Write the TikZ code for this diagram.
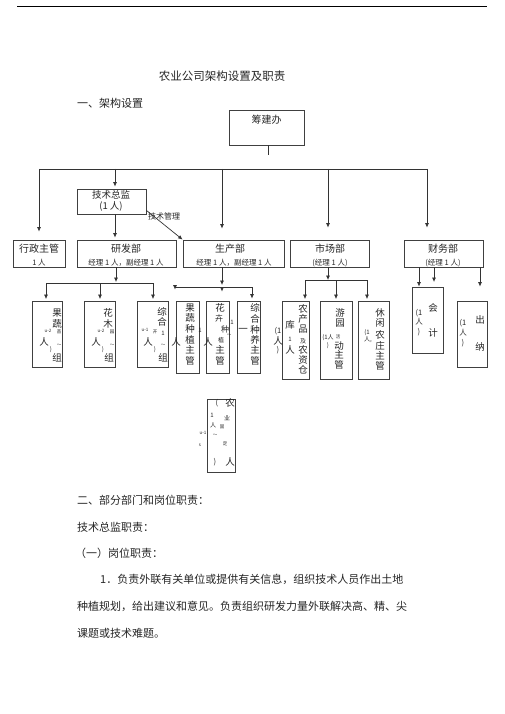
\documentclass[tikz,border=0pt]{standalone}
\usepackage{fontspec}
\setmainfont{Noto Sans CJK SC}
\usetikzlibrary{arrows.meta}
\newcommand\mych[4]{\node[#1] (#2) at (#3) {#4};}
\begin{document}
\begin{tikzpicture}[x=1pt,y=-1pt,
  ln/.style={draw=black!80, line width=0.7pt},
  arr/.style={ln, -{Latex[length=4.5pt,width=4pt]}},
  bx/.style={draw=black!75, line width=0.8pt, inner sep=0pt},
  t/.style={inner sep=0pt, text=black!85},
  c/.style={t, font=\fontsize{9.5}{10}\selectfont},
  cs/.style={t, font=\fontsize{6}{6}\selectfont},
  cx/.style={t, font=\fontsize{4.5}{5}\selectfont},
  bt/.style={t, font=\fontsize{10}{11}\selectfont},
  st/.style={t, font=\fontsize{7.5}{8}\selectfont},
  body/.style={t, anchor=west, font=\fontsize{11}{13}\selectfont},
]
\useasboundingbox[fill=white] (0,0) rectangle (505,714);
\draw[line width=0.8pt] (17,6) -- (487,6);

\node[t, font=\fontsize{11.5}{13}\selectfont] (title) at (222,76) {农业公司架构设置及职责};
\node[t, anchor=west, font=\fontsize{11}{13}\selectfont] (h1) at (77,103) {一、架构设置};

% top box
\node[bx, minimum width=75pt, minimum height=35pt] (cjb) at (266.5,127.5) {};
\node[bt] (cjbt) at (266.5,120) {筹建办};
\coordinate (c0) at (268,155);
\draw[ln] (c0 |- cjb.south) -- (c0);
\coordinate (busL) at (39,169);
\coordinate (busR) at (427,169);
\draw[ln] (busL) -- (busR);

% departments
\node[bx, minimum width=52pt, minimum height=27pt] (xz) at (39,253.5) {};
\node[bt] (xz1) at (39,249) {行政主管};
\node[st] (xz2) at (39,263) {1 人};
\draw[arr, shorten >=8pt] (busL) -- (xz.north);

\node[bx, minimum width=69pt, minimum height=25pt] (js) at (111.5,201.5) {};
\node[t, font=\fontsize{9.5}{10}\selectfont] (js1) at (111,195) {技术总监};
\node[t, font=\fontsize{9.5}{10}\selectfont] (js2) at (111,206) {(1 人)};
\coordinate (d1) at (115,169);
\draw[arr, shorten >=2pt] (d1) -- (d1 |- js.north);

\node[bx, minimum width=99pt, minimum height=27pt] (yf) at (126.5,253.5) {};
\node[bt] (yf1) at (126,249) {研发部};
\node[st] (yf2) at (126,263) {经理 1 人，副经理 1 人};
\draw[arr, shorten >=2pt] (d1 |- js.south) -- (d1 |- yf.north);

\node[bx, minimum width=101pt, minimum height=27pt] (sc) at (233.5,253.5) {};
\node[bt] (sc1) at (230,249) {生产部};
\node[st] (sc2) at (234,263) {经理 1 人，副经理 1 人};
\coordinate (d2) at (222,169);
\draw[arr, shorten >=11pt] (d2) -- (d2 |- sc.north);
\draw[arr] ([yshift=4pt]js.south east) -- (sc.north west);
\node[t, font=\fontsize{8}{9}\selectfont] (jsgl) at (164,216) {技术管理};

\node[bx, minimum width=79pt, minimum height=27pt] (sh) at (329.5,253.5) {};
\node[bt] (sh1) at (330,249) {市场部};
\node[st] (sh2) at (330,263) {(经理 1 人)};
\coordinate (d3) at (328,169);
\draw[arr, shorten >=12pt] (d3) -- (d3 |- sh.north);

\node[bx, minimum width=79pt, minimum height=27pt] (cw) at (443.5,253.5) {};
\node[bt] (cw1) at (443,249) {财务部};
\node[st] (cw2) at (443,263) {(经理 1 人)};
\draw[arr, shorten >=12pt] (busR) -- (busR |- cw.north);

% lower boxes
\node[bx, minimum width=30pt, minimum height=66pt] (b1) at (47,334) {};
\node[bx, minimum width=31pt, minimum height=66pt] (b2) at (99.5,334) {};
\node[bx, minimum width=31pt, minimum height=66pt] (b3) at (152.5,334) {};
\node[bx, minimum width=23pt, minimum height=72pt] (b4) at (187.5,337) {};
\node[bx, minimum width=23pt, minimum height=72pt] (b5) at (217.5,337) {};
\node[bx, minimum width=23pt, minimum height=72pt] (b6) at (248.5,337) {};
\node[bx, minimum width=27pt, minimum height=78pt] (b7) at (295.5,340) {};
\node[bx, minimum width=32pt, minimum height=78pt] (b8) at (336,340) {};
\node[bx, minimum width=31pt, minimum height=78pt] (b9) at (373.5,340) {};
\node[bx, minimum width=31pt, minimum height=66pt] (b10) at (427.5,320) {};
\node[bx, minimum width=30pt, minimum height=66pt] (b11) at (472,334) {};
\node[bx, minimum width=28pt, minimum height=73pt] (b12) at (221,435.5) {};

% research connectors
\coordinate (j1) at (116,283);
\coordinate (j1L) at (46,283);
\coordinate (j1M) at (100,283);
\coordinate (j1R) at (153,283);
\draw[arr, shorten >=1pt] (j1 |- yf.south) -- (j1);
\draw[ln] (j1L) -- (j1R);
\draw[arr, shorten >=1.5pt] (j1L) -- (j1L |- b1.north);
\draw[arr, shorten >=1.5pt] (j1M) -- (j1M |- b2.north);
\draw[arr, shorten >=1.5pt] (j1R) -- (j1R |- b3.north);

% production connectors
\coordinate (j2) at (222,287);
\coordinate (j2L) at (175,287);
\coordinate (j2R) at (252,287);
\draw[arr, shorten >=2pt] (j2 |- sc.south) -- (j2);
\draw[ln] (j2L) -- (j2R);
\draw[arr, shorten >=11pt] (j2L) -- (j2L |- b4.north);
\draw[arr, shorten >=9pt] (j2) -- (j2 |- b5.north);
\draw[arr, shorten >=2pt] (j2R) -- (j2R |- b6.north);

% market connectors
\coordinate (j3) at (328,280);
\coordinate (j3L) at (305,280);
\coordinate (j3M) at (336,280);
\coordinate (j3R) at (367,280);
\draw[arr] (j3 |- sh.south) -- (j3);
\draw[ln] (j3L) -- (j3R);
\draw[arr, shorten >=1.5pt] (j3L) -- (j3L |- b7.north);
\draw[arr, shorten >=1.5pt] (j3M) -- (j3M |- b8.north);
\draw[arr, shorten >=1.5pt] (j3R) -- (j3R |- b9.north);

% finance connectors
\coordinate (k1) at (419,267);
\coordinate (k2) at (434,282);
\coordinate (k3) at (480,267);
\draw[arr] (k1 |- cw.south) -- (k1 |- b10.north);
\draw[arr] (k2 |- cw.south) -- (k2);
\draw[arr, shorten >=14pt] (k3 |- cw.south) -- (k3 |- b11.north);

% box 1
\mych{c}{a1}{57,313}{果}
\mych{c}{a2}{57,324}{蔬}
\mych{cx}{a3}{48,331}{u-2}
\mych{cx}{a4}{59,332}{苗}
\mych{c}{a5}{44,342}{人}
\mych{cx}{a6}{59,345}{～}
\mych{cs}{a7}{51,350}{)}
\mych{c}{a8}{57,358}{组}
% box 2
\mych{c}{e1}{108,313}{花}
\mych{c}{e2}{108,324}{木}
\mych{cx}{e3}{101,331}{u-2}
\mych{cx}{e4}{112,332}{园}
\mych{c}{e5}{96,342}{人}
\mych{cx}{e6}{112,345}{～}
\mych{cs}{e7}{103,350}{)}
\mych{c}{e8}{109,358}{组}
% box 3
\mych{c}{f1}{162,312}{综}
\mych{c}{f2}{162,322}{合}
\mych{cx}{f3}{145,330}{u-1}
\mych{cx}{f4}{155,332}{开}
\mych{cs}{f5}{163,333}{1}
\mych{c}{f6}{148,342}{人}
\mych{cx}{f7}{163,345}{～}
\mych{cs}{f8}{155,350}{)}
\mych{c}{f9}{163,358}{组}
% box 4
\mych{c}{g1}{190,308}{果}
\mych{c}{g2}{190,318}{蔬}
\mych{c}{g3}{190,329}{种}
\mych{c}{g4}{190,340}{植}
\mych{c}{g5}{190,350}{主}
\mych{c}{g6}{190,361}{管}
\mych{c}{g7}{176,342}{人}
\mych{cs}{g8}{200,330}{1}
% box 5
\mych{c}{h1a}{220,308}{花}
\mych{t, font=\fontsize{8}{8}\selectfont}{h2}{219,318}{卉}
\mych{t, font=\fontsize{8}{8}\selectfont}{h3}{225,329}{种}
\mych{cs}{h4}{221,340}{植}
\mych{c}{h5}{220,350}{主}
\mych{c}{h6}{220,361}{管}
\mych{c}{h7}{208,342}{人}
\mych{cs}{h8}{232,322}{1}
\mych{cx}{h9}{229,335}{～}
% box 6
\mych{c}{i1}{255,308}{综}
\mych{c}{i2}{255,319}{合}
\mych{c}{i3}{255,330}{种}
\mych{c}{i4}{255,340}{养}
\mych{c}{i5}{255,350}{主}
\mych{c}{i6}{255,361}{管}
\mych{c}{i7}{243,330}{一}
% standalone (1 person)
\mych{st}{m1}{278,331}{(1}
\mych{c}{m2}{278,341}{人}
\mych{st}{m3}{278,350}{)}
% box 7
\mych{c}{n1}{303,309}{农}
\mych{c}{n2}{303,319}{产}
\mych{c}{n3}{303,329}{品}
\mych{cs}{n4}{303,341}{及}
\mych{c}{n5}{303,350}{农}
\mych{c}{n6}{303,360}{资}
\mych{c}{n7}{303,370}{仓}
\mych{c}{n8}{290,325}{库}
\mych{cs}{n9}{290,339}{1}
\mych{c}{n10}{290,350}{人}
% box 8
\mych{c}{o1}{340,313}{游}
\mych{c}{o2}{340,323}{园}
\mych{cs}{o3}{328,338}{(1人}
\mych{cx}{o4}{338,337}{活}
\mych{cs}{o5}{328,346}{)}
\mych{c}{o6}{339,346}{动}
\mych{c}{o7}{339,355}{主}
\mych{c}{o8}{339,365}{管}
% box 9
\mych{c}{q1}{380,313}{休}
\mych{c}{q2}{380,323}{闲}
\mych{c}{q3}{380,335}{农}
\mych{c}{q4}{380,346}{庄}
\mych{c}{q5}{380,356}{主}
\mych{c}{q6}{380,366}{管}
\mych{cs}{q7}{367,333}{(1}
\mych{cs}{q8}{368,340}{人,}
% box 10
\mych{c}{r1}{433,308}{会}
\mych{c}{r2}{433,333}{计}
\mych{st}{r3}{419,313}{(1}
\mych{st}{r4}{419,322}{人}
\mych{st}{r5}{419,332}{)}
% box 11
\mych{c}{s1}{480,320}{出}
\mych{c}{s2}{480,347}{纳}
\mych{st}{s3}{463,323}{(1}
\mych{st}{s4}{463,333}{人}
\mych{st}{s5}{463,343}{)}
% box 12
\mych{st}{u1}{217,403}{(}
\mych{c}{u2}{230,403}{农}
\mych{cs}{u3}{212,415}{1}
\mych{cs}{u4}{227,418}{业}
\mych{cs}{u5}{213,425}{人}
\mych{cx}{u6}{222,427}{固}
\mych{cx}{u7}{203,433}{u-1}
\mych{cx}{u8}{215,435}{～}
\mych{cx}{u9}{225,444}{定}
\mych{cx}{u10}{200,445}{s}
\mych{st}{u11}{215,462}{)}
\mych{c}{u12}{230,462}{人}

% body text
\node[body] (p1) at (77,500) {二、部分部门和岗位职责：};
\node[body] (p2) at (77,527) {技术总监职责：};
\node[body] (p3) at (75,553) {（一）岗位职责：};
\node[body] (p4) at (100,579) {1．负责外联有关单位或提供有关信息，组织技术人员作出土地};
\node[body] (p5) at (77,606) {种植规划，给出建议和意见。负责组织研发力量外联解决高、精、尖};
\node[body] (p6) at (77,633) {课题或技术难题。};
\end{tikzpicture}
\end{document}
